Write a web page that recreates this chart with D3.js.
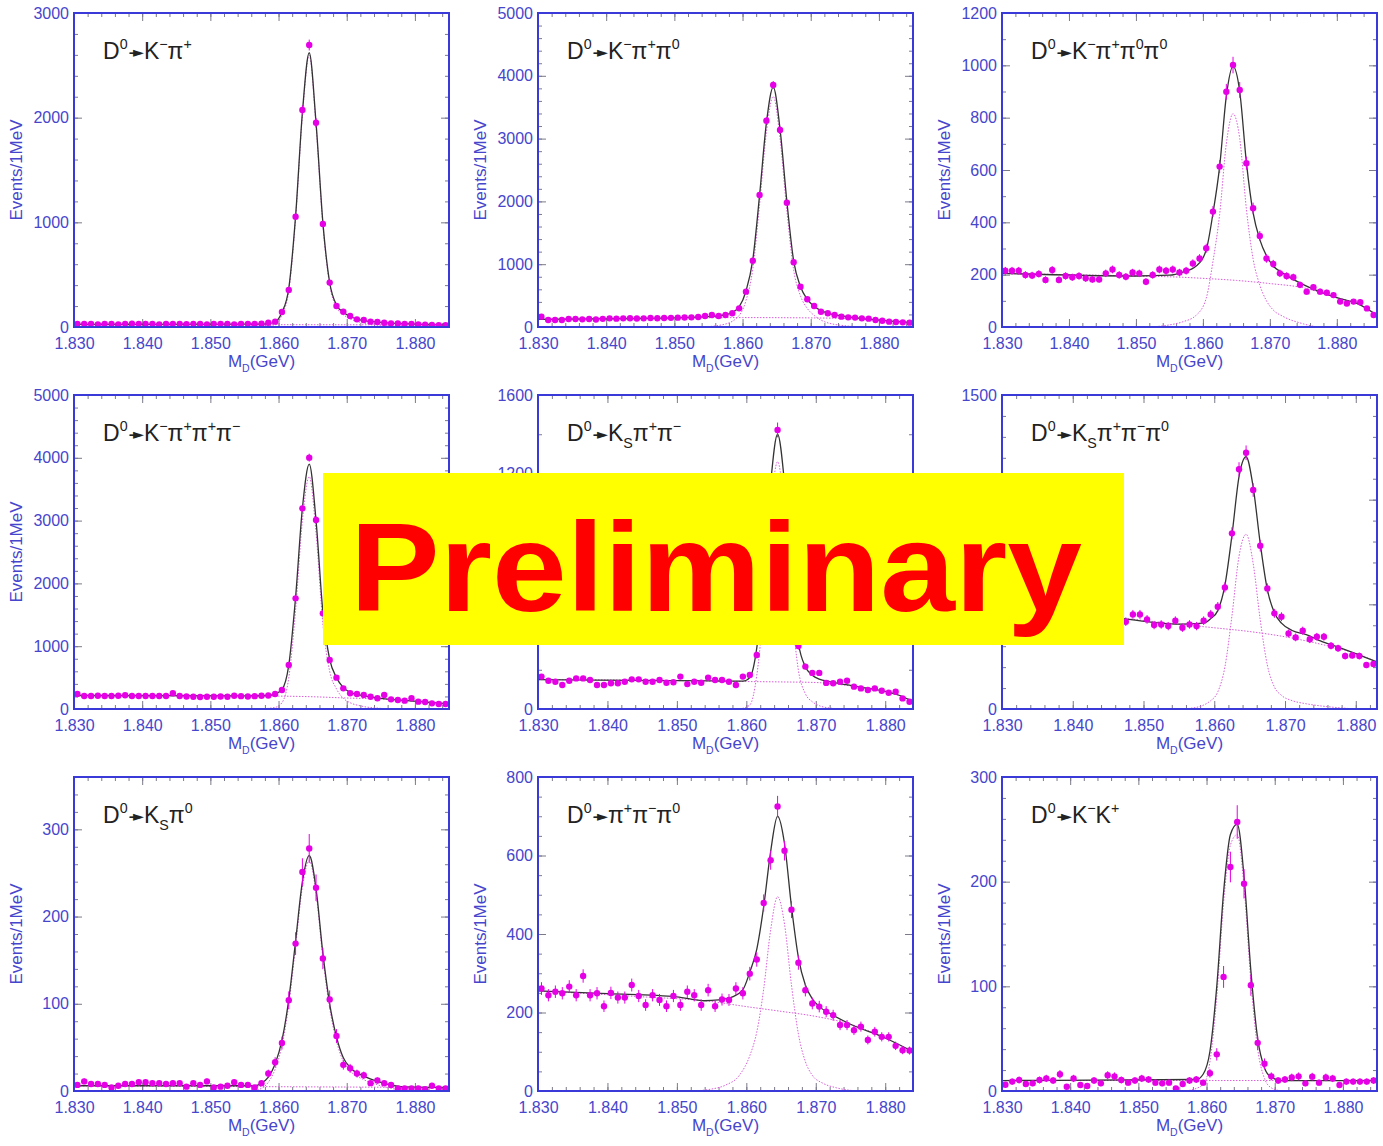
<!DOCTYPE html>
<html><head><meta charset="utf-8">
<script src="https://cdn.jsdelivr.net/npm/d3@7"></script>
<style>body{margin:0;background:#fff}</style>
</head><body><svg id="c" width="1383" height="1146"></svg>
<script>
// ---------- data ----------
const massLo = 1.830;          // GeV, left edge of every histogram
const binWidth = 0.001;        // 1 MeV bins
const xTickLabels = ["1.830","1.840","1.850","1.860","1.870","1.880"];

const titles = ["D^0→K^−π^+","D^0→K^−π^+π^0","D^0→K^−π^+π^0π^0",
                "D^0→K^−π^+π^+π^−","D^0→K_Sπ^+π^−","D^0→K_Sπ^+π^−π^0",
                "D^0→K_Sπ^0","D^0→π^+π^−π^0","D^0→K^−K^+"];
const xMax   = [1.885,1.885,1.886,1.885,1.884,1.883,1.885,1.884,1.885];
const yMax   = [3000,5000,1200,5000,1600,1500,360,800,300];
const yMajor = [1000,1000,200,1000,400,500,100,200,100];
const yMinor = [200,200,100,200,200,100,20,50,20];

// events per 1 MeV bin
const countsKpi = [30,28,30,25,30,28,25,30,32,30,28,30,25,28,30,28,27,30,28,25,28,30,28,25,28,30,28,32,40,51,143,354,1054,2073,2694,1952,984,424,200,146,105,73,67,51,48,41,35,33,30,30,25,22,20,18,18];
const countsKpipi0 = [165,111,111,111,127,127,122,127,120,130,138,133,138,140,135,138,143,140,143,146,149,152,154,160,175,191,175,190,218,297,563,1056,2102,3286,3853,3137,1980,1030,642,441,334,244,218,191,165,154,150,138,133,111,100,85,80,74,69];
const countsKpipi0pi0 = [215,215,215,199,197,203,180,218,180,195,190,195,186,182,182,205,220,199,192,208,205,173,199,220,215,220,208,215,243,262,301,441,613,899,1001,906,626,454,348,262,241,205,195,190,161,135,152,135,131,122,97,90,97,95,71,46];
const countsK3pi = [239,207,207,210,207,207,210,220,207,207,207,207,207,207,250,207,200,196,190,196,196,200,196,210,205,200,205,210,215,239,303,700,1762,3195,4002,3010,1523,780,499,329,250,239,223,196,170,223,154,143,133,170,117,111,90,80,80];
const countsKspipi = [165,144,139,122,144,156,156,148,122,122,131,131,139,151,151,139,139,148,134,136,165,127,139,134,160,148,148,139,122,165,173,275,640,1160,1422,1130,680,321,216,184,184,133,131,139,144,114,105,97,105,93,83,88,54,37];
const countsKspipipi0 = [470,455,480,460,445,470,450,440,455,445,430,450,440,425,445,430,420,417,452,452,428,401,404,396,422,388,404,396,422,452,489,581,839,1145,1224,1046,780,576,457,441,361,342,374,333,345,345,302,290,253,256,253,210,215];
const countsKspi0 = [7,11,8,8,7,4,6,8,8,10,10,9,9,8,9,9,5,9,7,11,4,5,6,10,7,7,4,9,20,33,55,104,169,251,278,233,152,105,63,30,26,20,18,9,12,9,7,3,3,3,3,2,6,3,3];
const countsPipipi0 = [261,244,253,249,266,244,293,244,249,216,250,238,238,270,242,219,244,232,216,242,219,253,244,219,257,216,233,232,261,249,299,335,479,588,725,612,462,327,257,223,215,202,193,168,168,155,164,130,151,138,138,115,104,103];
const countsKK = [6,9,10.5,6.7,7.3,10.5,12,10,16,4,12,5.7,4.8,10,7.3,15,14,10.5,8,10,12,11,8,7.3,8,2.5,6.7,10,11,8,17,35,109,214,257,198,101,46,26,14,10,11,13,14,7.3,13.7,8,13,12,5.7,9,9,9,9,10];

// fit curves: [mass (GeV), events]
const fitKpi = [[1.830,25],[1.857,27],[1.8585,32],[1.8595,48],[1.8605,140],[1.8615,370],[1.8625,1060],[1.8635,2050],[1.8645,2620],[1.8655,1950],[1.8665,1000],[1.8675,425],[1.8685,210],[1.8695,140],[1.8705,100],[1.8715,75],[1.8725,60],[1.875,45],[1.880,28],[1.885,20]];
const sigKpi = [[1.8565,0],[1.8595,22],[1.8605,115],[1.8615,345],[1.8625,1035],[1.8635,2025],[1.8645,2595],[1.8655,1925],[1.8665,977],[1.8675,402],[1.8685,188],[1.8695,118],[1.8705,78],[1.8725,38],[1.876,12],[1.880,0]];
const bkgKpi = [[1.830,25],[1.885,20]];

const fitKpipi0 = [[1.830,122],[1.845,135],[1.855,165],[1.8575,195],[1.8585,235],[1.8595,320],[1.8605,570],[1.8615,1070],[1.8625,2100],[1.8635,3250],[1.8645,3820],[1.8655,3150],[1.8665,2000],[1.8675,1050],[1.8685,640],[1.8695,440],[1.8705,330],[1.8715,260],[1.8725,220],[1.875,170],[1.880,110],[1.885,70]];
const sigKpipi0 = [[1.854,0],[1.857,35],[1.859,130],[1.8605,420],[1.8615,920],[1.8625,1950],[1.8635,3100],[1.8645,3670],[1.8655,3000],[1.8665,1850],[1.8675,905],[1.8685,495],[1.8695,295],[1.8705,185],[1.872,85],[1.875,20],[1.878,0]];
const bkgKpipi0 = [[1.830,122],[1.850,145],[1.860,150],[1.870,145],[1.875,135],[1.880,105],[1.885,70]];

const fitKpipi0pi0 = [[1.830,205],[1.850,195],[1.855,198],[1.857,210],[1.859,233],[1.8605,295],[1.8615,434],[1.8625,613],[1.8635,882],[1.8645,996],[1.8655,900],[1.8665,628],[1.8675,436],[1.8685,334],[1.8695,272],[1.8705,233],[1.872,205],[1.875,162],[1.880,112],[1.883,90],[1.886,45]];
const sigKpipi0pi0 = [[1.852,0],[1.855,8],[1.857,20],[1.859,45],[1.8605,110],[1.8615,250],[1.8625,430],[1.8635,700],[1.8645,815],[1.8655,720],[1.8665,450],[1.8675,260],[1.8685,160],[1.8695,100],[1.8705,65],[1.872,40],[1.875,12],[1.877,0]];
const bkgKpipi0pi0 = [[1.830,205],[1.840,200],[1.850,195],[1.857,190],[1.860,186],[1.865,178],[1.870,166],[1.875,150],[1.880,112],[1.883,90],[1.886,45]];

const fitK3pi = [[1.830,215],[1.855,210],[1.8585,215],[1.8595,240],[1.8605,310],[1.8615,700],[1.8625,1780],[1.8635,3200],[1.8645,3900],[1.8655,3000],[1.8665,1550],[1.8675,790],[1.8685,500],[1.8695,340],[1.8705,265],[1.872,220],[1.875,170],[1.880,125],[1.885,80]];
const sigK3pi = [[1.857,0],[1.8595,25],[1.8605,100],[1.8615,495],[1.8625,1575],[1.8635,3000],[1.8645,3700],[1.8655,2805],[1.8665,1360],[1.8675,600],[1.8685,320],[1.8695,170],[1.8705,100],[1.872,50],[1.875,10],[1.877,0]];
const bkgK3pi = [[1.830,215],[1.850,210],[1.860,205],[1.865,195],[1.870,175],[1.875,160],[1.880,125],[1.885,80]];

const fitKspipi = [[1.830,150],[1.855,143],[1.8595,142],[1.8605,160],[1.8615,310],[1.8625,660],[1.8635,1150],[1.8645,1400],[1.8655,1150],[1.8665,665],[1.8675,335],[1.8685,215],[1.8695,172],[1.8705,152],[1.872,140],[1.875,120],[1.878,102],[1.880,90],[1.882,70],[1.884,38]];
const sigKspipi = [[1.859,0],[1.8605,20],[1.8615,170],[1.8625,520],[1.8635,1010],[1.8645,1260],[1.8655,1010],[1.8665,527],[1.8675,197],[1.8685,78],[1.8695,37],[1.8705,17],[1.872,5],[1.874,0]];
const bkgKspipi = [[1.830,150],[1.850,145],[1.860,140],[1.865,138],[1.870,135],[1.875,118],[1.878,102],[1.880,90],[1.882,70],[1.884,38]];

const fitKspipipi0 = [[1.830,470],[1.845,440],[1.855,405],[1.8585,410],[1.8595,432],[1.8605,470],[1.8615,590],[1.8625,830],[1.8635,1110],[1.8645,1205],[1.8655,1060],[1.8665,790],[1.8675,570],[1.8685,460],[1.8695,410],[1.871,375],[1.873,355],[1.875,325],[1.878,290],[1.880,265],[1.883,225]];
const sigKspipipi0 = [[1.855,0],[1.857,5],[1.8595,40],[1.8605,82],[1.8615,200],[1.8625,445],[1.8635,730],[1.8645,835],[1.8655,695],[1.8665,425],[1.8675,210],[1.8685,105],[1.8695,65],[1.871,40],[1.873,25],[1.875,15],[1.878,5],[1.880,0]];
const bkgKspipipi0 = [[1.830,470],[1.845,440],[1.855,405],[1.860,388],[1.865,370],[1.870,345],[1.875,310],[1.880,265],[1.883,225]];

const fitKspi0 = [[1.830,6],[1.8565,6],[1.8575,9],[1.8585,16],[1.8595,31],[1.8605,58],[1.8615,105],[1.8625,172],[1.8635,240],[1.8645,270],[1.8655,232],[1.8665,158],[1.8675,100],[1.8685,62],[1.8695,38],[1.8705,27],[1.8725,17],[1.875,10],[1.878,5],[1.885,4]];
const sigKspi0 = [[1.856,0],[1.8575,3],[1.8585,10],[1.8595,25],[1.8605,52],[1.8615,99],[1.8625,166],[1.8635,234],[1.8645,264],[1.8655,227],[1.8665,153],[1.8675,95],[1.8685,57],[1.8695,34],[1.8705,23],[1.8725,13],[1.875,6],[1.878,1],[1.880,0]];
const bkgKspi0 = [[1.830,6],[1.885,4]];

const fitPipipi0 = [[1.830,255],[1.840,248],[1.850,240],[1.854,230],[1.856,232],[1.858,240],[1.8595,258],[1.8605,303],[1.8615,361],[1.8625,470],[1.8635,610],[1.8645,700],[1.8655,630],[1.8665,470],[1.8675,340],[1.8685,270],[1.8695,235],[1.8705,215],[1.872,198],[1.875,170],[1.880,135],[1.884,100]];
const sigPipipi0 = [[1.852,0],[1.855,5],[1.857,15],[1.859,40],[1.8605,90],[1.8615,150],[1.8625,260],[1.8635,410],[1.8645,495],[1.8655,425],[1.8665,270],[1.8675,145],[1.8685,75],[1.8695,40],[1.871,20],[1.873,8],[1.876,0]];
const bkgPipipi0 = [[1.830,255],[1.845,240],[1.855,228],[1.860,215],[1.865,203],[1.870,190],[1.875,170],[1.880,135],[1.884,100]];

const fitKK = [[1.830,10],[1.8585,11],[1.8595,16],[1.8605,38],[1.8615,100],[1.8625,190],[1.8635,245],[1.8645,255],[1.8655,205],[1.8665,115],[1.8675,50],[1.8685,22],[1.8695,13],[1.871,10],[1.885,10]];
const sigKK = [[1.857,0],[1.8595,6],[1.8605,28],[1.8615,90],[1.8625,180],[1.8635,235],[1.8645,245],[1.8655,195],[1.8665,105],[1.8675,40],[1.8685,12],[1.8695,3],[1.871,0]];
const bkgKK = [[1.830,10],[1.885,10]];

const stampText = "Preliminary";

// ---------- layout ----------
const colLeft = [74, 538, 1002], rowTop = [13, 395, 777];
const panelW = 375, panelH = 314;
const stampBox = {x: 323, y: 473, w: 801, h: 172};
const blue = "#3a3ad8", labelBlue = "#4646cc", tickGray = "#7a7a8a";
const dotColor = "#e600e6", compColor = "#d860d8";
const font = "'Liberation Sans', Arial, Helvetica, sans-serif";

const countsList = [countsKpi,countsKpipi0,countsKpipi0pi0,countsK3pi,countsKspipi,countsKspipipi0,countsKspi0,countsPipipi0,countsKK];
const fitList = [fitKpi,fitKpipi0,fitKpipi0pi0,fitK3pi,fitKspipi,fitKspipipi0,fitKspi0,fitPipipi0,fitKK];
const sigList = [sigKpi,sigKpipi0,sigKpipi0pi0,sigK3pi,sigKspipi,sigKspipipi0,sigKspi0,sigPipipi0,sigKK];
const bkgList = [bkgKpi,bkgKpipi0,bkgKpipi0pi0,bkgK3pi,bkgKspipi,bkgKspipipi0,bkgKspi0,bkgPipipi0,bkgKK];

const svg = d3.select("#c");
svg.append("rect").attr("width",1383).attr("height",1146).attr("fill","#fff");

function richText(sel, s, fs) {
  let cur = 0;
  for (let i = 0; i < s.length; i++) {
    let ch = s[i], type = "n";
    if (ch === "→") {
      // PAW-style arrow: short stem + filled head
      sel.append("tspan").attr("dy", -cur).attr("dx", 1).attr("font-size", fs*0.9).text("-");
      sel.append("tspan").attr("dy", -0.1*fs).attr("dx", -2.5).attr("font-size", fs*0.62)
         .attr("font-family", "'DejaVu Sans', sans-serif").text("►");
      cur = -0.1*fs;
      continue;
    }
    if (ch === "^" || ch === "_") { type = ch === "^" ? "sup" : "sub"; ch = s[++i]; }
    const target = type === "sup" ? -0.42*fs : type === "sub" ? 0.3*fs : 0;
    sel.append("tspan").attr("dy", target - cur)
       .attr("font-size", type === "n" ? fs : fs*0.62).text(ch);
    cur = target;
  }
}

countsList.forEach((counts, k) => {
  const x0 = colLeft[k%3], y0 = rowTop[Math.floor(k/3)];
  const g = svg.append("g").attr("transform", `translate(${x0},${y0})`);
  const x = d3.scaleLinear().domain([massLo, xMax[k]]).range([0, panelW]);
  const y = d3.scaleLinear().domain([0, yMax[k]]).range([panelH, 0]);

  const clipId = "clip" + k;
  g.append("clipPath").attr("id", clipId).append("rect")
    .attr("x",0).attr("y",0).attr("width",panelW).attr("height",panelH);

  const xMajorVals = xTickLabels.map(Number);
  const nMinor = Math.round((xMax[k]-massLo)/0.002);
  const xMinorVals = d3.range(0, nMinor+1).map(j => +(massLo + j*0.002).toFixed(4));
  const yMajorVals = d3.range(0, yMax[k]+1e-6, yMajor[k]);
  const yMinorVals = d3.range(0, yMax[k]+1e-6, yMinor[k]);

  // a y label lying wholly under the "Preliminary" stamp is invisible in the reference
  const hiddenByStamp = v => {
    const ay = y0 + y(v);
    return x0 - 45 >= stampBox.x && x0 <= stampBox.x + stampBox.w &&
           ay - 9 >= stampBox.y && ay + 9 <= stampBox.y + stampBox.h;
  };

  const styleAxis = a => {
    a.select(".domain").remove();
    a.selectAll("line").attr("stroke", tickGray).attr("stroke-width", 1);
    a.selectAll("text").attr("fill", labelBlue).attr("font-family", font).attr("font-size", 16);
  };
  // bottom
  g.append("g").attr("transform",`translate(0,${panelH})`)
    .call(d3.axisBottom(x).tickValues(xMinorVals).tickSizeInner(-4).tickSizeOuter(0).tickFormat("")).call(styleAxis);
  g.append("g").attr("transform",`translate(0,${panelH})`)
    .call(d3.axisBottom(x).tickValues(xMajorVals).tickSizeInner(-8).tickSizeOuter(0).tickPadding(11)
      .tickFormat((d,i)=>xTickLabels[i])).call(styleAxis);
  // top
  g.append("g").call(d3.axisTop(x).tickValues(xMinorVals).tickSizeInner(-4).tickSizeOuter(0).tickFormat("")).call(styleAxis);
  g.append("g").call(d3.axisTop(x).tickValues(xMajorVals).tickSizeInner(-8).tickSizeOuter(0).tickFormat("")).call(styleAxis);
  // left
  g.append("g").call(d3.axisLeft(y).tickValues(yMinorVals).tickSizeInner(-4).tickSizeOuter(0).tickFormat("")).call(styleAxis);
  g.append("g").call(d3.axisLeft(y).tickValues(yMajorVals).tickSizeInner(-8).tickSizeOuter(0).tickPadding(5)
      .tickFormat(v => hiddenByStamp(v) ? "" : d3.format("d")(v))).call(styleAxis);
  // right
  g.append("g").attr("transform",`translate(${panelW},0)`)
    .call(d3.axisRight(y).tickValues(yMinorVals).tickSizeInner(-4).tickSizeOuter(0).tickFormat("")).call(styleAxis);
  g.append("g").attr("transform",`translate(${panelW},0)`)
    .call(d3.axisRight(y).tickValues(yMajorVals).tickSizeInner(-8).tickSizeOuter(0).tickFormat("")).call(styleAxis);

  // fit curves
  const line = d3.line().x(d=>x(d[0])).y(d=>y(d[1])).curve(d3.curveMonotoneX);
  const plot = g.append("g").attr("clip-path", `url(#${clipId})`);
  plot.append("path").attr("d", line(bkgList[k])).attr("fill","none")
    .attr("stroke", compColor).attr("stroke-width",1).attr("stroke-dasharray","1.5,1.5");
  plot.append("path").attr("d", line(sigList[k])).attr("fill","none")
    .attr("stroke", compColor).attr("stroke-width",1).attr("stroke-dasharray","1.5,1.5");
  plot.append("path").attr("d", line(fitList[k])).attr("fill","none")
    .attr("stroke", "#333").attr("stroke-width",1.3);

  // data points with Poisson error bars
  const pts = counts.map((v,i)=>({m: massLo + (i+0.5)*binWidth, v}));
  plot.selectAll("line.err").data(pts).join("line").attr("class","err")
    .attr("x1",d=>x(d.m)).attr("x2",d=>x(d.m))
    .attr("y1",d=>y(d.v+Math.sqrt(d.v))).attr("y2",d=>y(Math.max(0,d.v-Math.sqrt(d.v))))
    .attr("stroke", dotColor).attr("stroke-width",1);
  plot.selectAll("circle").data(pts).join("circle")
    .attr("cx",d=>x(d.m)).attr("cy",d=>y(d.v)).attr("r",3.2).attr("fill",dotColor);

  // frame
  g.append("rect").attr("width",panelW).attr("height",panelH)
    .attr("fill","none").attr("stroke",blue).attr("stroke-width",2);

  // title
  const t = g.append("text").attr("x",29).attr("y",46).attr("fill","#222")
    .attr("font-family",font).attr("font-size",23);
  richText(t, titles[k], 23);

  // axis titles
  g.append("text").attr("transform",`translate(-52,${panelH/2}) rotate(-90)`)
    .attr("text-anchor","middle").attr("fill",labelBlue).attr("font-family",font).attr("font-size",17)
    .text("Events/1MeV");
  const xt = g.append("text").attr("x",panelW/2).attr("y",panelH+40).attr("text-anchor","middle")
    .attr("fill",labelBlue).attr("font-family",font).attr("font-size",17);
  richText(xt, "M_D(GeV)", 17);
});

// stamp
svg.append("rect").attr("x",stampBox.x).attr("y",stampBox.y).attr("width",stampBox.w).attr("height",stampBox.h).attr("fill","#ffff00");
svg.append("text").attr("x",350).attr("y",611).attr("fill","#ff0000")
  .attr("font-family",font).attr("font-weight","bold").attr("font-size",127)
  .attr("textLength",732).attr("lengthAdjust","spacingAndGlyphs").text(stampText);
</script>
</body></html>
